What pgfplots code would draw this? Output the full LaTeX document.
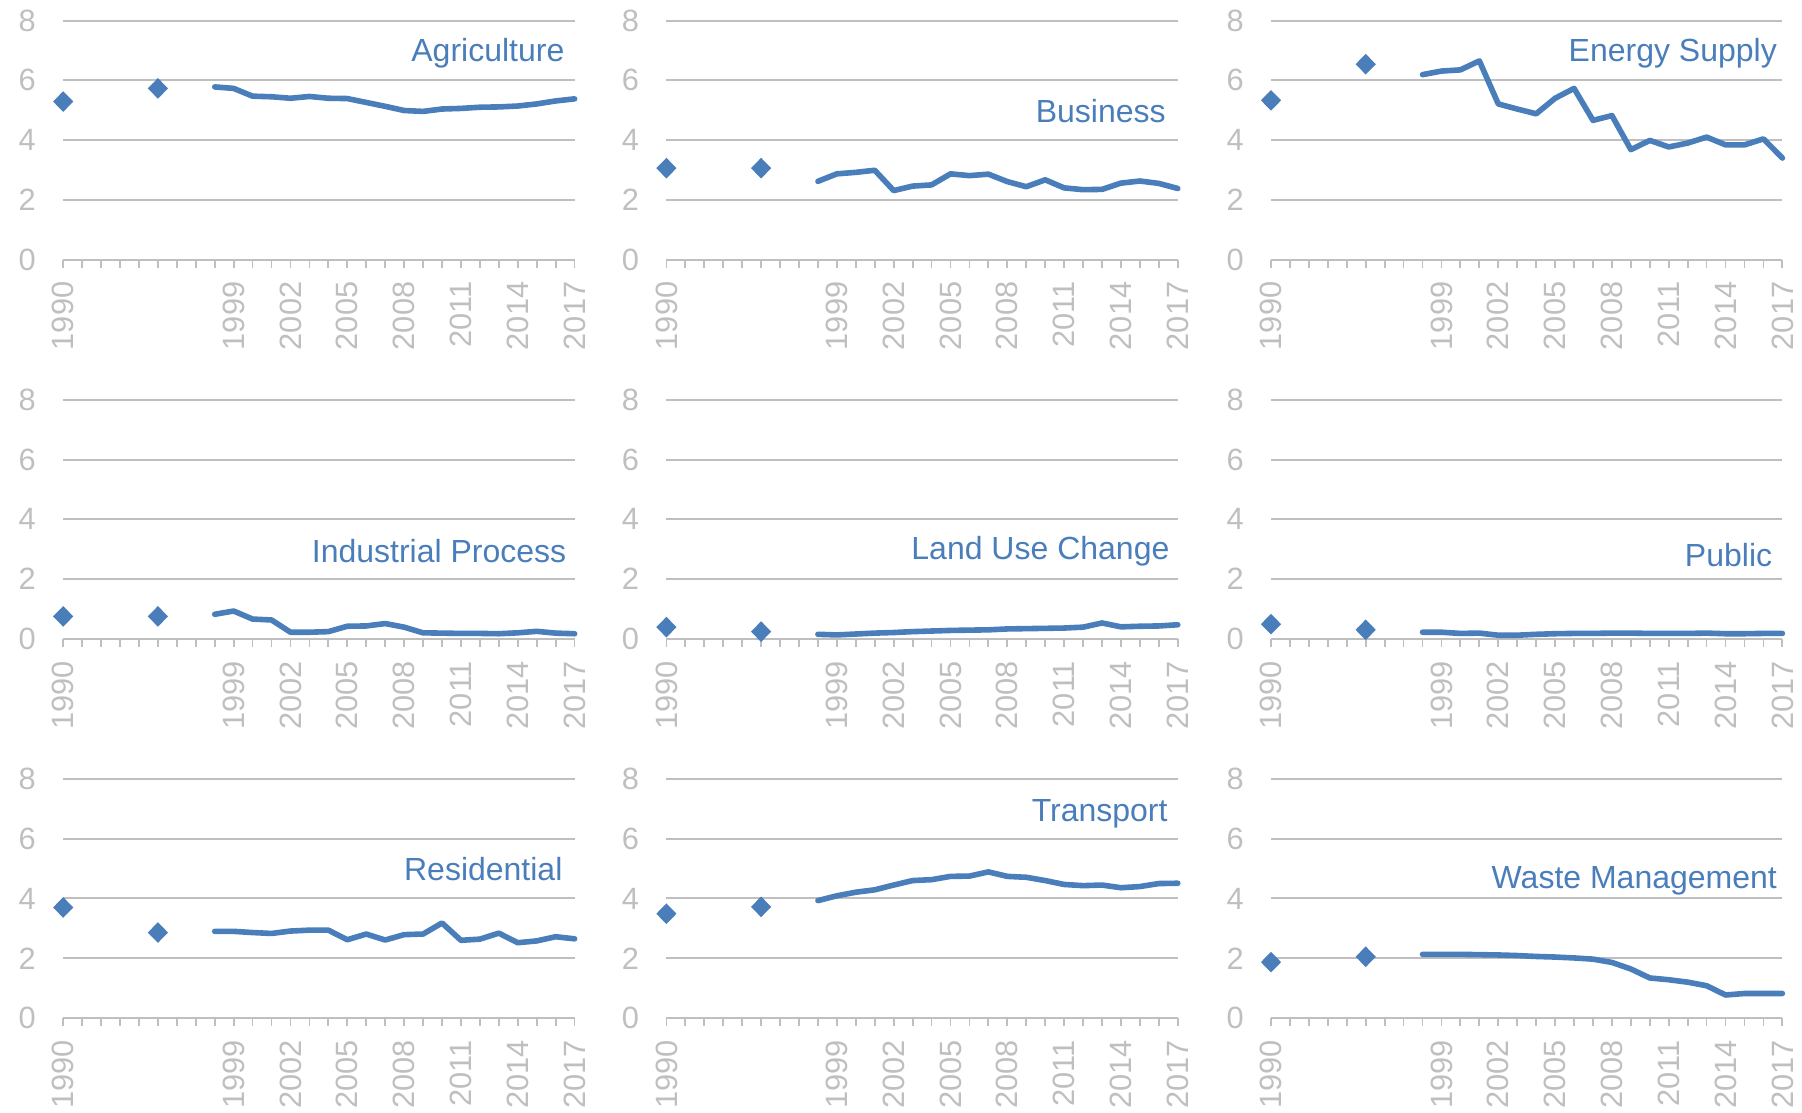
\documentclass[border=0pt]{standalone}
\usepackage{fontspec}
\setmainfont{Liberation Sans}
\usepackage{pgfplots}
\pgfplotsset{compat=1.18}

\definecolor{lineblue}{RGB}{74,126,187}
\definecolor{axgray}{RGB}{191,191,191}
\definecolor{labgray}{RGB}{191,191,191}

\pgfplotsset{
  panel/.style={
    scale only axis, width=127.85pt, height=59.75pt, anchor=south west,
    xmin=1990, xmax=2017, ymin=0, ymax=8,
    axis x line=bottom, axis y line=left,
    axis line style={-, draw=axgray, line width=0.5pt},
    y axis line style={draw=none},
    xtick={1990,1999,2002,2005,2008,2011,2014,2017},
    xticklabels={1990,1999,2002,2005,2008,2011,2014,2017},
    minor xtick={1990,...,2017},
    ytick={0,2,4,6,8}, yticklabels={0,2,4,6,8},
    tick align=outside,
    major tick length=2pt, minor tick length=2pt,
    xtick style={draw=axgray, line width=0.45pt},
    ytick style={draw=none},
    ymajorgrids, major grid style={draw=axgray, line width=0.5pt},
    tick label style={font=\fontsize{7.7}{8}\selectfont, text=labgray},
    xticklabel style={rotate=90, anchor=east},
    yticklabel style={xshift=-1.3pt},
    /pgf/number format/assume math mode=true,
    clip=false,
  },
  trend/.style={line width=1.4pt, color=lineblue, line join=round, line cap=round},
  early/.style={only marks, mark=diamond*, mark size=2.3pt, color=lineblue,
    every mark/.append style={xscale=1.3}},
}
\tikzset{ttl/.style={anchor=east, inner sep=0pt, text=lineblue, font=\fontsize{8}{9}\selectfont}}

\begin{document}
\begin{tikzpicture}
% row 1
\begin{axis}[panel, at={(0pt,0pt)}]
  \addplot[early] coordinates {(1990,5.29) (1995,5.73)};
  \addplot[trend] coordinates {(1998,5.78) (1999,5.73) (2000,5.47) (2001,5.45)
    (2002,5.40) (2003,5.46) (2004,5.40) (2005,5.39) (2006,5.26) (2007,5.13)
    (2008,4.99) (2009,4.96) (2010,5.04) (2011,5.06) (2012,5.10) (2013,5.11)
    (2014,5.14) (2015,5.21) (2016,5.31) (2017,5.38)};
  \node[ttl] at (axis cs:2016.5,6.9) {Agriculture};
\end{axis}
\begin{axis}[panel, at={(150.8pt,0pt)}]
  \addplot[early] coordinates {(1990,3.06) (1995,3.06)};
  \addplot[trend] coordinates {(1998,2.62) (1999,2.87) (2000,2.92) (2001,2.99)
    (2002,2.31) (2003,2.46) (2004,2.50) (2005,2.87) (2006,2.81) (2007,2.86)
    (2008,2.61) (2009,2.44) (2010,2.67) (2011,2.40) (2012,2.34) (2013,2.35)
    (2014,2.56) (2015,2.63) (2016,2.55) (2017,2.38)};
  \node[ttl] at (axis cs:2016.4,4.96) {Business};
\end{axis}
\begin{axis}[panel, at={(301.95pt,0pt)}]
  \addplot[early] coordinates {(1990,5.33) (1995,6.54)};
  \addplot[trend] coordinates {(1998,6.19) (1999,6.31) (2000,6.35) (2001,6.65)
    (2002,5.21) (2003,5.04) (2004,4.88) (2005,5.40) (2006,5.73) (2007,4.66)
    (2008,4.82) (2009,3.68) (2010,3.99) (2011,3.77) (2012,3.90) (2013,4.10)
    (2014,3.84) (2015,3.84) (2016,4.04) (2017,3.40)};
  \node[ttl] at (axis cs:2016.75,6.9) {Energy Supply};
\end{axis}
% row 2
\begin{axis}[panel, at={(0pt,-94.8pt)}]
  \addplot[early] coordinates {(1990,0.75) (1995,0.75)};
  \addplot[trend] coordinates {(1998,0.82) (1999,0.93) (2000,0.66) (2001,0.63)
    (2002,0.22) (2003,0.22) (2004,0.24) (2005,0.42) (2006,0.43) (2007,0.51)
    (2008,0.39) (2009,0.20) (2010,0.19) (2011,0.18) (2012,0.18) (2013,0.17)
    (2014,0.20) (2015,0.25) (2016,0.19) (2017,0.17)};
  \node[ttl] at (axis cs:2016.6,2.92) {Industrial Process};
\end{axis}
\begin{axis}[panel, at={(150.8pt,-94.8pt)}]
  \addplot[early] coordinates {(1990,0.39) (1995,0.24)};
  \addplot[trend] coordinates {(1998,0.15) (1999,0.13) (2000,0.16) (2001,0.19)
    (2002,0.21) (2003,0.24) (2004,0.26) (2005,0.28) (2006,0.29) (2007,0.30)
    (2008,0.33) (2009,0.34) (2010,0.35) (2011,0.36) (2012,0.39) (2013,0.53)
    (2014,0.40) (2015,0.42) (2016,0.43) (2017,0.47)};
  \node[ttl] at (axis cs:2016.6,2.92) {Land Use Change};
\end{axis}
\begin{axis}[panel, at={(301.95pt,-94.8pt)}]
  \addplot[early] coordinates {(1990,0.49) (1995,0.30)};
  \addplot[trend] coordinates {(1998,0.22) (1999,0.22) (2000,0.18) (2001,0.19)
    (2002,0.12) (2003,0.12) (2004,0.15) (2005,0.17) (2006,0.18) (2007,0.18)
    (2008,0.19) (2009,0.19) (2010,0.18) (2011,0.18) (2012,0.18) (2013,0.19)
    (2014,0.17) (2015,0.17) (2016,0.18) (2017,0.18)};
  \node[ttl] at (axis cs:2016.5,2.8) {Public};
\end{axis}
% row 3
\begin{axis}[panel, at={(0pt,-189.6pt)}]
  \addplot[early] coordinates {(1990,3.70) (1995,2.86)};
  \addplot[trend] coordinates {(1998,2.90) (1999,2.90) (2000,2.86) (2001,2.83)
    (2002,2.91) (2003,2.94) (2004,2.94) (2005,2.62) (2006,2.81) (2007,2.61)
    (2008,2.79) (2009,2.81) (2010,3.18) (2011,2.60) (2012,2.64) (2013,2.84)
    (2014,2.52) (2015,2.58) (2016,2.72) (2017,2.65)};
  \node[ttl] at (axis cs:2016.4,5.0) {Residential};
\end{axis}
\begin{axis}[panel, at={(150.8pt,-189.6pt)}]
  \addplot[early] coordinates {(1990,3.49) (1995,3.72)};
  \addplot[trend] coordinates {(1998,3.93) (1999,4.09) (2000,4.21) (2001,4.29)
    (2002,4.45) (2003,4.60) (2004,4.63) (2005,4.74) (2006,4.75) (2007,4.89)
    (2008,4.74) (2009,4.71) (2010,4.60) (2011,4.47) (2012,4.43) (2013,4.45)
    (2014,4.36) (2015,4.40) (2016,4.50) (2017,4.51)};
  \node[ttl] at (axis cs:2016.5,6.85) {Transport};
\end{axis}
\begin{axis}[panel, at={(301.95pt,-189.6pt)}]
  \addplot[early] coordinates {(1990,1.87) (1995,2.05)};
  \addplot[trend] coordinates {(1998,2.13) (1999,2.13) (2000,2.13) (2001,2.12)
    (2002,2.11) (2003,2.09) (2004,2.06) (2005,2.04) (2006,2.01) (2007,1.97)
    (2008,1.86) (2009,1.64) (2010,1.34) (2011,1.28) (2012,1.20) (2013,1.08)
    (2014,0.77) (2015,0.82) (2016,0.82) (2017,0.82)};
  \node[ttl] at (axis cs:2016.75,4.6) {Waste Management};
\end{axis}
\pgfresetboundingbox
\path[use as bounding box] (-15.8pt,-213.3pt) rectangle (434.7pt,64.9pt);
\end{tikzpicture}
\end{document}
